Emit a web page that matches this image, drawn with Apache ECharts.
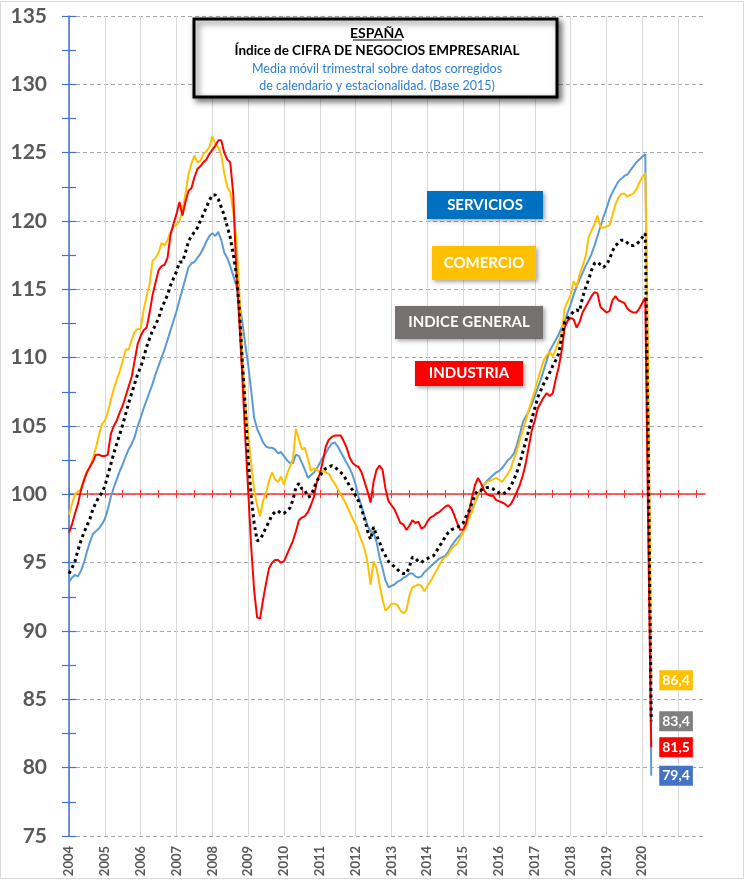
<!DOCTYPE html>
<html>
<head>
<meta charset="utf-8">
<script src="https://cdn.jsdelivr.net/npm/echarts@6/dist/echarts.min.js"></script>
<style>
html,body{margin:0;padding:0;background:#fff;}
#chart{width:744px;height:880px;}
</style>
</head>
<body>
<div id="chart"></div>
<script>
// ---- DATA ----
const yearsAxis = [2004,2005,2006,2007,2008,2009,2010,2011,2012,2013,2014,2015,2016,2017,2018,2019,2020,2021];
const lastLabelYear = 2020;
const monthsShown = 214; // Jan 2004 .. Oct 2021 (axis extent)

const servicios = [
  93.6, 93.9, 94.1, 94.0, 94.4, 95.0, 95.8, 96.5, 97.1, 97.3, 97.5, 97.8,
  98.2, 98.9, 99.8, 100.5, 101.1, 101.7, 102.2, 102.8, 103.3, 103.7, 104.2, 105.0,
  105.6, 106.3, 106.9, 107.5, 108.1, 108.8, 109.4, 110.0, 110.6, 111.3, 112.0, 112.7,
  113.4, 114.2, 115.0, 115.8, 116.6, 116.9, 117.0, 117.3, 117.6, 118.0, 118.5, 118.9,
  119.1, 118.9, 119.2, 118.6, 117.7, 117.3, 116.7, 116.0, 115.3, 114.0, 112.7, 111.0,
  109.5, 107.6, 105.6, 104.8, 104.3, 103.8, 103.5, 103.4, 103.4, 103.3, 103.0, 103.1,
  102.8, 102.5, 102.3, 102.3, 102.9, 102.8, 102.3, 101.8, 101.2, 101.4, 101.6, 101.9,
  102.3, 102.7, 103.0, 103.4, 103.7, 103.8, 103.5, 103.1, 102.7, 102.3, 101.9, 101.4,
  100.7, 99.8, 99.1, 98.4, 97.7, 97.3, 97.2, 96.5, 95.4, 94.6, 93.7, 93.2,
  93.3, 93.4, 93.6, 93.7, 93.9, 94.0, 94.2, 94.2, 94.0, 93.9, 94.0, 94.3,
  94.5, 94.7, 94.9, 95.1, 95.3, 95.4, 95.5, 95.8, 96.2, 96.5, 96.8, 97.0,
  97.3, 97.8, 98.4, 98.9, 99.4, 99.9, 100.4, 100.7, 101.0, 101.2, 101.4, 101.6,
  101.7, 101.9, 102.2, 102.5, 102.7, 103.0, 103.6, 104.4, 105.3, 105.7, 106.1, 106.6,
  107.2, 107.8, 108.4, 109.1, 109.8, 110.5, 110.9, 111.3, 111.7, 112.2, 112.6, 113.3,
  113.9, 114.6, 115.2, 115.7, 116.2, 116.7, 117.1, 117.6, 118.2, 118.9, 119.6, 120.3,
  120.9, 121.6, 122.1, 122.5, 122.9, 123.1, 123.3, 123.4, 123.7, 124.0, 124.3, 124.5,
  124.7, 124.9, 106.0, 79.4
];

const comercio = [
  98.5, 99.3, 100.0, 100.2, 100.4, 101.1, 101.7, 102.0, 102.6, 103.4, 104.3, 105.1,
  105.4, 106.0, 106.9, 107.7, 108.4, 109.0, 109.8, 110.6, 110.6, 111.3, 111.9, 112.1,
  112.1, 113.5, 114.5, 115.4, 117.1, 117.3, 117.7, 118.4, 118.2, 118.6, 119.2, 119.6,
  119.7, 120.0, 120.8, 122.0, 123.4, 124.2, 124.8, 124.3, 124.4, 124.9, 125.1, 125.4,
  126.2, 125.6, 125.4, 124.8, 123.5, 122.5, 122.1, 120.7, 118.8, 115.0, 110.5, 106.8,
  104.5, 102.3, 100.3, 99.2, 98.4, 99.5, 100.1, 101.0, 101.6, 101.1, 100.9, 101.3,
  100.7, 101.5, 102.0, 102.6, 104.8, 104.0, 103.3, 103.4, 102.6, 101.7, 101.9, 101.8,
  101.6, 101.7, 101.6, 101.5, 101.1, 100.8, 100.4, 100.0, 99.6, 99.2, 98.7, 98.2,
  97.8, 97.2, 96.6, 96.0, 95.0, 93.4, 95.1, 94.6, 93.4, 92.3, 91.5, 91.7,
  92.0, 92.0, 91.9, 91.5, 91.3, 91.5, 92.6, 93.2, 93.3, 93.4, 93.3, 92.9,
  93.3, 93.6, 94.0, 94.4, 94.8, 95.2, 95.4, 95.6, 96.0, 96.2, 96.4, 96.8,
  97.2, 97.6, 98.3, 98.7, 99.4, 100.1, 100.4, 100.7, 100.9, 101.0, 101.1, 101.2,
  101.1, 100.9, 101.2, 101.5, 101.9, 102.6, 103.2, 104.0, 104.7, 105.4, 106.2, 106.9,
  107.6, 108.4, 109.1, 109.8, 110.2, 110.4, 110.1, 110.6, 111.2, 111.8, 113.6, 114.1,
  114.6, 115.6, 115.2, 116.1, 116.7, 117.4, 118.8, 119.3, 119.8, 120.4, 119.5, 119.5,
  119.6, 119.7, 120.4, 121.2, 121.7, 122.0, 122.0, 121.8, 121.9, 122.0, 122.3, 122.8,
  123.2, 123.5, 109.0, 86.4
];

const industria = [
  97.2, 97.8, 98.6, 99.3, 100.3, 101.0, 101.6, 102.0, 102.4, 102.9, 102.9, 102.8,
  102.8, 102.9, 104.4, 105.0, 105.4, 106.0, 106.5, 107.2, 107.9, 108.6, 109.8, 111.0,
  111.6, 112.0, 112.2, 113.3, 114.6, 115.5, 116.4, 116.7, 116.8, 117.3, 119.0, 119.8,
  120.5, 121.4, 120.4, 121.4, 122.2, 122.4, 123.2, 123.8, 124.0, 124.3, 124.5, 124.9,
  125.2, 125.5, 125.9, 125.9, 125.0, 124.5, 124.3, 122.0, 116.5, 112.8, 108.8, 104.3,
  100.3, 96.2, 93.0, 91.0, 90.9, 92.3, 93.5, 94.6, 95.0, 95.2, 95.2, 95.0,
  95.1, 95.6, 96.1, 96.6, 97.3, 98.1, 98.3, 98.4, 98.7, 99.2, 99.8, 100.9,
  101.5, 102.4, 103.5, 104.0, 104.2, 104.3, 104.3, 104.3, 103.9, 103.4, 102.7, 102.3,
  102.1, 102.0, 101.6, 100.9, 100.2, 99.4, 100.9, 101.8, 102.1, 101.8, 100.4, 99.5,
  99.2, 98.9, 98.4, 97.9, 97.8, 97.4, 97.7, 98.1, 97.9, 98.0, 97.5, 97.6,
  98.0, 98.3, 98.4, 98.6, 98.7, 98.9, 99.1, 99.2, 99.0, 98.5, 97.9, 97.4,
  97.4, 97.9, 98.8, 99.8, 100.7, 101.2, 100.8, 100.3, 100.0, 99.9, 99.9, 99.6,
  99.5, 99.4, 99.3, 99.1, 99.3, 99.7, 100.2, 100.7, 101.4, 102.3, 103.5, 104.7,
  105.4, 106.3, 106.7, 107.1, 107.4, 107.2, 107.4, 108.4, 109.3, 110.5, 112.2, 112.7,
  112.9, 112.8, 112.2, 112.6, 113.3, 113.7, 114.1, 114.5, 114.8, 114.7, 113.7, 113.5,
  113.3, 113.4, 114.2, 114.5, 114.2, 114.1, 114.0, 113.6, 113.4, 113.3, 113.3, 113.6,
  114.0, 114.4, 97.0, 81.5
];

const indiceGeneral = [
  94.2, 94.6, 95.1, 95.9, 96.6, 97.2, 97.7, 98.2, 98.9, 99.4, 99.8, 100.1,
  100.6, 101.4, 102.2, 103.0, 103.7, 104.4, 105.1, 105.9, 106.7, 107.4, 108.1, 108.8,
  109.3, 110.0, 110.8, 111.4, 112.0, 112.4, 112.9, 113.6, 114.1, 114.6, 115.3, 115.8,
  116.3, 117.0, 117.0, 117.7, 118.5, 118.9, 119.2, 119.5, 120.0, 120.5, 121.0, 121.5,
  121.9, 121.9, 121.6, 121.0, 120.4, 119.6, 118.8, 117.6, 116.2, 113.7, 109.8, 106.5,
  102.6, 99.9, 97.9, 96.6, 96.7, 97.1, 97.6, 98.0, 98.5, 98.7, 98.8, 98.6,
  98.6, 98.8, 99.0, 99.6, 100.5, 100.8, 100.4, 100.3, 99.8, 99.9, 100.4, 101.0,
  101.3, 101.7, 101.9, 102.0, 102.1, 102.0, 101.8, 101.6, 101.4, 101.0, 100.6, 100.3,
  99.9, 99.5, 98.9, 98.2, 97.3, 96.7, 97.6, 97.0, 96.5, 95.9, 95.5, 95.1,
  94.9, 94.7, 94.5, 94.3, 94.2, 94.2, 94.7, 95.4, 95.3, 95.1, 95.0, 95.2,
  95.3, 95.4, 95.5, 95.8, 96.2, 96.5, 96.9, 97.2, 97.4, 97.5, 97.6, 97.7,
  97.9, 98.4, 98.8, 99.4, 100.0, 100.3, 100.3, 100.4, 100.5, 100.5, 100.4, 100.2,
  100.1, 100.0, 100.1, 100.3, 100.6, 101.1, 101.6, 102.3, 103.1, 103.9, 104.7, 105.5,
  106.3, 107.1, 107.6, 108.1, 108.5, 108.9, 109.4, 109.8, 110.3, 111.5, 112.6, 112.9,
  113.1, 113.4, 113.5, 113.4, 114.4, 115.1, 115.7, 116.4, 116.9, 117.0, 116.8, 116.6,
  116.8, 117.2, 117.8, 118.2, 118.4, 118.6, 118.6, 118.4, 118.2, 118.2, 118.3, 118.5,
  118.8, 119.1, 103.0, 83.4
];

const titleLines = ['ESPAÑA', 'Índice de CIFRA DE NEGOCIOS EMPRESARIAL',
  'Media móvil trimestral sobre datos corregidos', 'de calendario y estacionalidad. (Base 2015)'];
const legendNames = ['SERVICIOS', 'COMERCIO', 'INDICE GENERAL', 'INDUSTRIA'];

// ---- BUILD ----
const categories = [];
for (const y of yearsAxis) {
  for (let m = 1; m <= 12; m++) {
    if (categories.length < monthsShown) categories.push(y + '-' + (m < 10 ? '0' + m : m));
  }
}
const FONT = 'Lato, "Open Sans", sans-serif';
const fmt = p => Number(p.value).toFixed(1).replace('.', ',');

function lineSeries(name, data, color, lineStyle, labelBg, z) {
  return {
    name, type: 'line', data, xAxisIndex: 0, yAxisIndex: 0,
    symbol: 'none', showSymbol: false, z,
    lineStyle: Object.assign({ color, width: 2 }, lineStyle),
    itemStyle: { color },
    endLabel: {
      show: true, formatter: fmt, distance: 8,
      backgroundColor: labelBg, color: '#fff', fontWeight: 'bold',
      fontSize: 14, fontFamily: FONT, padding: [3, 3, 3, 3], lineHeight: 14
    }
  };
}

const chart = echarts.init(document.getElementById('chart'), null, { renderer: 'canvas' });

function legendBox(x, y, w, h, fill, text) {
  return [
    { type: 'rect', shape: { x, y, width: w, height: h }, z: 10,
      style: { fill, shadowBlur: 4, shadowColor: 'rgba(0,0,0,0.35)', shadowOffsetX: 2, shadowOffsetY: 2 } },
    { type: 'text', x: x + w / 2, y: y + h / 2, z: 11,
      style: { text, fill: '#fff', font: 'bold 15px ' + FONT, align: 'center', verticalAlign: 'middle' } }
  ];
}

const graphics = [
  { type: 'rect', shape: { x: 0.5, y: 1.5, width: 743, height: 877 }, z: -1, silent: true,
    style: { fill: 'none', stroke: '#D9D9D9', lineWidth: 1 } },
  { type: 'rect', shape: { x: 194, y: 19, width: 363, height: 78 }, z: 10,
    style: { fill: '#fff', stroke: '#000', lineWidth: 3,
      shadowBlur: 6, shadowColor: 'rgba(0,0,0,0.55)', shadowOffsetX: 3, shadowOffsetY: 3 } },
  { type: 'text', x: 377, y: 33, z: 11,
    style: { text: titleLines[0], fill: '#000', font: 'bold 14px ' + FONT, align: 'center', verticalAlign: 'middle' } },
  { type: 'line', shape: { x1: 353, y1: 40, x2: 402, y2: 40 }, z: 11,
    style: { stroke: '#000', lineWidth: 1 } },
  { type: 'text', x: 377, y: 51, z: 11,
    style: { text: titleLines[1], fill: '#000', font: 'bold 13.5px ' + FONT, align: 'center', verticalAlign: 'middle' } },
  { type: 'text', x: 377, y: 69, z: 11,
    style: { text: titleLines[2], fill: '#2E7FD0', font: '12.5px ' + FONT, align: 'center', verticalAlign: 'middle' } },
  { type: 'text', x: 377, y: 86, z: 11,
    style: { text: titleLines[3], fill: '#2E7FD0', font: '12.5px ' + FONT, align: 'center', verticalAlign: 'middle' } }
]
  .concat(legendBox(427, 191, 116, 28, '#0070C0', legendNames[0]))
  .concat(legendBox(432, 246, 104, 34, '#FFC000', legendNames[1]))
  .concat(legendBox(395, 306, 148, 33, '#767171', legendNames[2]))
  .concat(legendBox(415, 361, 108, 25, '#FF0000', legendNames[3]));

const axisBlue = '#4472C4';
const baseY = {
  type: 'value', min: 75, max: 135, interval: 5, position: 'left'
};

const option = {
  animation: false,
  backgroundColor: '#fff',
  grid: { left: 69, right: 39, top: 16, bottom: 44, containLabel: false },
  xAxis: [
    {
      type: 'category', data: categories, boundaryGap: false, position: 'bottom',
      axisLine: { show: false }, axisTick: { show: false },
      axisLabel: {
        interval: (i, v) => i % 12 === 0 && Number(v.slice(0, 4)) <= lastLabelYear,
        formatter: v => v.slice(0, 4), rotate: 90, margin: 10,
        fontSize: 13, fontWeight: 'bold', color: '#595959', fontFamily: FONT
      },
      splitLine: { show: true, interval: i => i % 12 === 0, lineStyle: { color: '#D9D9D9', width: 1 } }
    },
    {
      type: 'category', data: categories, boundaryGap: false, position: 'bottom', offset: -342,
      axisLine: { show: true, onZero: false, lineStyle: { color: '#FF3030', width: 1.5 } },
      axisTick: { show: true, interval: i => i % 6 === 0, length: 4, lineStyle: { color: '#FF3030', width: 1 } },
      axisLabel: { show: false }, splitLine: { show: false }
    },
    {
      type: 'category', data: categories, boundaryGap: false, position: 'bottom', offset: -342,
      axisLine: { show: false, onZero: false },
      axisTick: { show: true, inside: true, interval: i => i % 6 === 0, length: 4, lineStyle: { color: '#FF3030', width: 1 } },
      axisLabel: { show: false }, splitLine: { show: false }
    }
  ],
  yAxis: [
    Object.assign({}, baseY, {
      axisLine: { show: true, lineStyle: { color: axisBlue, width: 1.5 } },
      axisTick: { show: true, length: 7, lineStyle: { color: axisBlue, width: 1.2 } },
      minorTick: { show: true, splitNumber: 2, length: 7, lineStyle: { color: axisBlue, width: 1.2 } },
      axisLabel: { fontSize: 21, fontWeight: 'bold', color: '#595959', margin: 22, fontFamily: FONT },
      splitLine: { show: true, lineStyle: { color: '#A6A6A6', width: 1, type: [4, 3] } }
    }),
    Object.assign({}, baseY, {
      axisLine: { show: false },
      axisTick: { show: true, inside: true, length: 7, lineStyle: { color: axisBlue, width: 1.2 } },
      minorTick: { show: true, splitNumber: 2, length: 7, lineStyle: { color: axisBlue, width: 1.2 } },
      axisLabel: { show: false }, splitLine: { show: false }
    })
  ],
  series: [
    lineSeries('SERVICIOS', servicios, '#5B9BD5', {}, '#4472C4', 3),
    lineSeries('COMERCIO', comercio, '#FFC000', {}, '#FFC000', 4),
    lineSeries('INDUSTRIA', industria, '#FF0000', {}, '#FF0000', 5),
    lineSeries('INDICE GENERAL', indiceGeneral, '#000000', { width: 3, type: [3, 3.5] }, '#808080', 6)
  ],
  graphic: graphics
};

chart.setOption(option);
</script>
</body>
</html>
